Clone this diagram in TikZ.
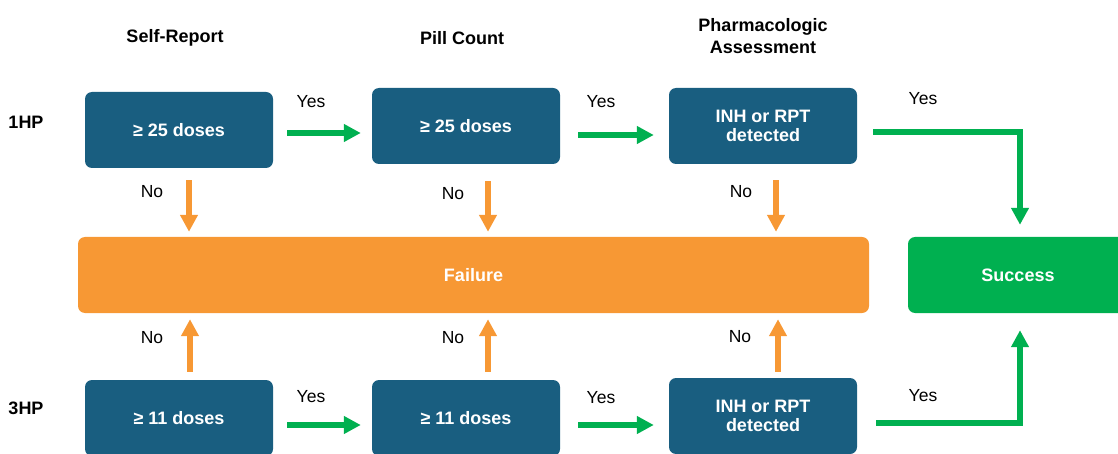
\documentclass[tikz,border=0pt]{standalone}
\usepackage{fontspec}
\setmainfont{Liberation Sans}
\usetikzlibrary{calc, arrows.meta}
\definecolor{boxblue}{RGB}{25, 94, 128}
\definecolor{failorange}{RGB}{247, 152, 52}
\definecolor{okgreen}{RGB}{0, 176, 80}

\begin{document}
\begin{tikzpicture}[x=1pt, y=-1pt,
    testbox/.style={fill=boxblue, rounded corners=7pt, minimum width=188pt, minimum height=76pt,
      text=white, align=center, font=\fontsize{18}{19}\selectfont\bfseries},
    resbox/.style={rounded corners=7pt, minimum height=76pt, text=white, font=\fontsize{18}{21}\selectfont\bfseries},
    head/.style={align=center, font=\fontsize{18}{22}\selectfont\bfseries},
    lbl/.style={font=\fontsize{17.5}{20}\selectfont},
    yesarr/.style={okgreen, line width=6pt, -{Triangle[length=17pt, width=17pt]}},
    noarr/.style={failorange, line width=5.5pt, -{Triangle[length=17pt, width=17pt]}}]
        \useasboundingbox (0,0) rectangle (1118,454);
        \clip (0,0) rectangle (1118,454);
        % column and row heads
        \node[head] (hsr) at (175,38) {Self-Report};
        \node[head] (hpc) at (462,38) {Pill Count};
        \node[head] (hph) at (763,36) {Pharmacologic\\Assessment};
        \node[head] (r1) at (26,122) {1HP};
        \node[head] (r3) at (26,408) {3HP};
        % checks
        \node[testbox] (sr1) at (179,130) {≥ 25 doses};
        \node[testbox] (pc1) at (466,126) {≥ 25 doses};
        \node[testbox] (ph1) at (763,126) {INH or RPT\\detected};
        \node[testbox] (sr3) at (179,418) {≥ 11 doses};
        \node[testbox] (pc3) at (466,418) {≥ 11 doses};
        \node[testbox] (ph3) at (763,416) {INH or RPT\\detected};
        \node[resbox, fill=failorange, minimum width=791pt] (fail) at (473.5,275) {Failure};
        \node[resbox, fill=okgreen, minimum width=220pt] (succ) at (1018,275) {Success};
        % yes
        \draw[yesarr] ($(sr1.east)+(14,3)$) -- ($(sr1.east -| pc1.west)+(-11,3)$);
        \draw[yesarr] ($(pc1.east)+(18,9)$) -- ($(pc1.east -| ph1.west)+(-15,9)$);
        \draw[yesarr] ($(ph1.east)+(16,6)$) -| ($(succ.north)+(2,-12)$);
        \draw[yesarr] ($(sr3.east)+(14,7)$) -- ($(sr3.east -| pc3.west)+(-11,7)$);
        \draw[yesarr] ($(pc3.east)+(18,7)$) -- ($(pc3.east -| ph3.west)+(-15,7)$);
        \draw[yesarr] ($(ph3.east)+(19,7)$) -| ($(succ.south)+(2,17)$);
        \node[lbl] (y1) at (311,102) {Yes};
        \node[lbl] (y2) at (601,102) {Yes};
        \node[lbl] (y3) at (923,99) {Yes};
        \node[lbl] (y4) at (311,397) {Yes};
        \node[lbl] (y5) at (601,398) {Yes};
        \node[lbl] (y6) at (923,396) {Yes};
        % no
        \draw[noarr] ($(sr1.south)+(10,12)$) -- ($(sr1.south |- fail.north)+(10,-5)$);
        \draw[noarr] ($(pc1.south)+(22,17)$) -- ($(pc1.south |- fail.north)+(22,-5)$);
        \draw[noarr] ($(ph1.south)+(13,16)$) -- ($(ph1.south |- fail.north)+(13,-5)$);
        \draw[noarr] ($(sr3.north)+(11,-8)$) -- ($(sr3.north |- fail.south)+(11,6)$);
        \draw[noarr] ($(pc3.north)+(22,-8)$) -- ($(pc3.north |- fail.south)+(22,6)$);
        \draw[noarr] ($(ph3.north)+(15,-6)$) -- ($(ph3.north |- fail.south)+(15,6)$);
        \node[lbl] (n1) at (152,192) {No};
        \node[lbl] (n2) at (453,194) {No};
        \node[lbl] (n3) at (741,192) {No};
        \node[lbl] (n4) at (152,338) {No};
        \node[lbl] (n5) at (453,338) {No};
        \node[lbl] (n6) at (740,337) {No};
      \end{tikzpicture}
\end{document}
